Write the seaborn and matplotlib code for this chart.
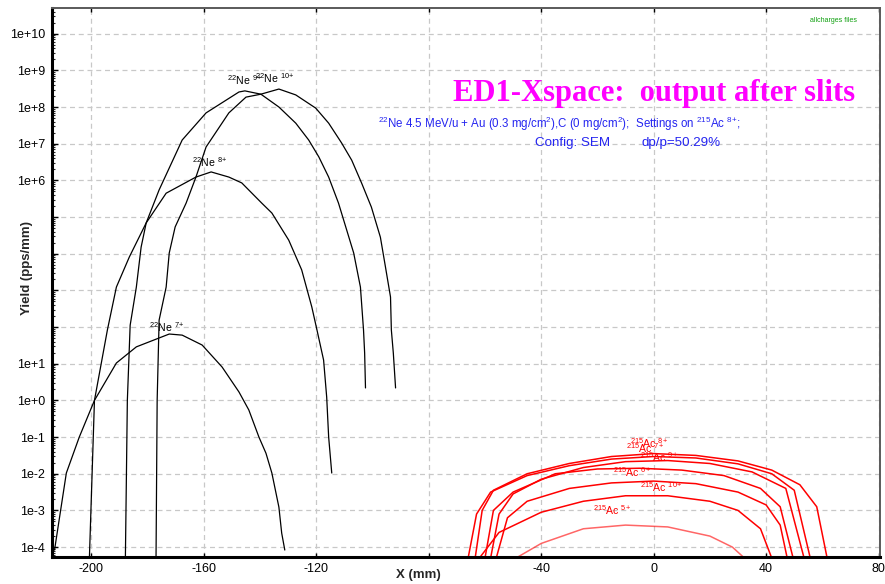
import numpy as np
import pandas as pd
import matplotlib
matplotlib.use("Agg")
import matplotlib.pyplot as plt
import seaborn as sns

# ---- 22Ne charge states (x in mm, log10 of yield in pps/mm) ----
ne7_x = [-213.1, -208.9, -204.3, -198.9, -191.1, -184.0, -172.3, -167.7, -160.6, -153.5,
         -147.5, -144.0, -140.4, -137.9, -135.8, -133.3, -132.3, -131.2]
ne7_logy = [-4.08, -1.98, -1.00, 0.00, 1.02, 1.46, 1.81, 1.78, 1.51, 0.91,
            0.23, -0.26, -1.00, -1.44, -1.98, -2.91, -3.62, -4.08]

ne8_x = [-200.7, -198.9, -194.3, -191.1, -186.5, -180.5, -173.4, -162.8, -157.4, -151.1,
         -146.5, -139.4, -135.8, -129.8, -125.2, -121.6, -119.9, -117.4, -116.3, -115.6, -114.5]
ne8_logy = [-4.30, 0.00, 1.92, 3.09, 3.91, 4.84, 5.65, 6.09, 6.23, 6.09,
            5.93, 5.38, 5.11, 4.37, 3.56, 2.55, 1.97, 1.10, 0.09, -1.00, -1.98]

ne9_x = [-187.9, -187.2, -186.2, -184.0, -182.3, -180.5, -175.9, -167.7, -159.2, -147.5,
         -145.4, -139.7, -133.3, -127.3, -122.7, -119.1, -115.6, -112.1, -109.2, -106.7,
         -104.3, -103.2, -102.8, -102.5]
ne9_logy = [-4.30, 0.00, 2.05, 3.09, 4.18, 4.84, 5.74, 7.10, 7.84, 8.41,
            8.44, 8.35, 8.00, 7.56, 7.10, 6.64, 6.09, 5.38, 4.65, 4.02,
            3.09, 1.92, 1.29, 0.34]

ne10_x = [-177.0, -176.6, -175.9, -173.4, -172.3, -170.2, -166.3, -162.8, -159.2, -151.1,
          -145.0, -139.7, -133.3, -127.3, -120.2, -115.6, -111.0, -107.4, -103.9, -100.4,
          -97.2, -95.4, -93.6, -93.3, -92.6, -91.8]
ne10_logy = [-4.30, 0.00, 2.19, 3.09, 4.02, 4.73, 5.38, 6.09, 6.91, 7.84,
             8.27, 8.35, 8.49, 8.33, 7.97, 7.56, 7.02, 6.55, 5.93, 5.27,
             4.45, 3.64, 2.82, 1.92, 1.29, 0.34]

# ---- 215Ac charge states ----
ac8_x = [-63.5, -61, -57, -45, -30, -15, 0, 15, 30, 42, 52, 58, 61.7]
ac8_logy = [-4.3, -3.0, -2.45, -2.0, -1.72, -1.53, -1.45, -1.5, -1.65, -1.9, -2.3, -2.9, -4.3]

ac7_x = [-66, -63, -58, -45, -30, -15, 0, 15, 30, 42, 50, 55.7]
ac7_logy = [-4.3, -3.1, -2.5, -2.05, -1.78, -1.6, -1.53, -1.57, -1.73, -2.0, -2.45, -4.3]

ac9_x = [-58, -55, -50, -40, -25, -10, 5, 20, 35, 47, 53.5]
ac9_logy = [-4.3, -3.1, -2.55, -2.15, -1.83, -1.67, -1.64, -1.72, -1.95, -2.4, -4.3]

ac6_x = [-60, -57, -50, -35, -20, -5, 10, 25, 38, 45, 49.6]
ac6_logy = [-4.3, -3.0, -2.5, -2.0, -1.87, -1.85, -1.9, -2.05, -2.4, -2.9, -4.3]

ac10_x = [-56, -52, -45, -30, -15, 0, 15, 30, 40, 45, 47.5]
ac10_logy = [-4.3, -3.2, -2.75, -2.4, -2.25, -2.2, -2.27, -2.5, -2.85, -3.4, -4.3]

ac5_x = [-62, -55, -40, -25, -10, 5, 20, 30, 38, 42]
ac5_logy = [-4.3, -3.6, -3.05, -2.75, -2.6, -2.6, -2.75, -3.0, -3.5, -4.3]

ac4_x = [-49, -40, -25, -10, 5, 20, 28, 32.3]
ac4_logy = [-4.3, -3.9, -3.5, -3.4, -3.45, -3.7, -4.0, -4.3]

# ---- curve labels: (charge, x of label, log10 y of label) ----
ne_labels = [("7+", -179.4, 2.0), ("8+", -164.2, 6.5), ("9+", -151.8, 8.74), ("10+", -141.8, 8.79)]
ac_labels = [("8+", -8.5, -1.16), ("7+", -9.9, -1.30), ("9+", -5.0, -1.54),
             ("6+", -14.5, -1.95), ("10+", -5.0, -2.36), ("5+", -21.6, -2.99)]

x_ticks = [-200, -160, -120, -80, -40, 0, 40, 80]
x_ticklabels = ["-200", "-160", "-120", "", "-40", "0", "40", "80"]
y_decades = list(range(-4, 11))
y_ticklabels = ["1e-4", "1e-3", "1e-2", "1e-1", "1e+0", "1e+1", "", "", "", "",
                "1e+6", "1e+7", "1e+8", "1e+9", "1e+10"]

sns.set_theme(style="white")
plt.rcParams["font.family"] = ["Liberation Sans", "DejaVu Sans"]
plt.rcParams["mathtext.fontset"] = "custom"
plt.rcParams["mathtext.rm"] = "Liberation Sans"
plt.rcParams["mathtext.it"] = "Liberation Sans"
plt.rcParams["mathtext.bf"] = "Liberation Sans:bold"

fig = plt.figure(figsize=(8.85, 5.84), dpi=100)
ax = fig.add_axes([52 / 885, 27 / 584, 828 / 885, 549 / 584])
ax.set_yscale("log")

def draw(xs, logys, color, lw=1.0, alpha=1.0):
    df = pd.DataFrame({"x": xs, "y": np.power(10.0, logys)})
    sns.lineplot(data=df, x="x", y="y", ax=ax, color=color, lw=lw, alpha=alpha,
                 estimator=None, sort=False, legend=False)

for xs, ly in [(ne7_x, ne7_logy), (ne8_x, ne8_logy), (ne9_x, ne9_logy), (ne10_x, ne10_logy)]:
    draw(xs, ly, "black", lw=0.9)

for xs, ly in [(ac8_x, ac8_logy), (ac7_x, ac7_logy), (ac9_x, ac9_logy),
               (ac6_x, ac6_logy), (ac10_x, ac10_logy), (ac5_x, ac5_logy)]:
    draw(xs, ly, "#ff0000", lw=1.1)
draw(ac4_x, ac4_logy, "#ff0000", lw=1.1, alpha=0.6)

def charge(q):
    # superscript charge without operator spacing around '+'
    return r"$^{%s{+}}$" % q.rstrip("+")

for q, lx, ly in ne_labels:
    ax.text(lx, 10 ** ly, r"$^{22}$Ne " + charge(q), fontsize=7.6, color="black",
            ha="left", va="center")
for q, lx, ly in ac_labels:
    ax.text(lx, 10 ** ly, r"$^{215}$Ac " + charge(q), fontsize=7.6, color="#ff0000",
            ha="left", va="center")

ax.set_xlim(-214, 80.5)
ax.set_ylim(10 ** -4.27, 10 ** 10.7)
ax.set_xticks(x_ticks)
ax.set_xticklabels(x_ticklabels)
ax.set_yticks([10.0 ** d for d in y_decades])
ax.set_yticklabels(y_ticklabels)
ax.yaxis.set_minor_locator(matplotlib.ticker.LogLocator(base=10, subs=np.arange(2, 10), numticks=30))
ax.yaxis.set_minor_formatter(matplotlib.ticker.NullFormatter())

ax.grid(True, which="major", color="#c8c8c8", linestyle=(0, (4, 3)), lw=0.9)
ax.grid(False, which="minor")

ax.tick_params(axis="y", which="major", direction="in", length=4, width=1, left=True,
               labelsize=9, pad=5, colors="black")
ax.tick_params(axis="y", which="minor", direction="in", length=2.5, width=0.8, left=True)
ax.tick_params(axis="x", which="major", direction="in", length=3, width=1, bottom=True, top=True,
               labelsize=9, pad=4, colors="black")

for side in ["left", "bottom"]:
    ax.spines[side].set_color("black")
    ax.spines[side].set_linewidth(2.2)
for side in ["top", "right"]:
    ax.spines[side].set_color("#5a5a5a")
    ax.spines[side].set_linewidth(1.4)

ax.set_xlabel("X (mm)", fontsize=9.5, fontweight="bold")
ax.xaxis.set_label_coords(0.442, -0.022)
ax.set_ylabel("Yield (pps/mm)", fontsize=9.5, fontweight="bold")
ax.yaxis.set_label_coords(-0.023, 0.526)

fig.text(654 / 885, 1 - 93 / 584, "ED1-Xspace:  output after slits", color="#ff00ff",
         fontsize=22, fontweight="bold", family="Liberation Serif", ha="center", va="center")
fig.text(378 / 885, 1 - 124 / 584,
         r"$^{22}$Ne 4.5 MeV/u + Au (0.3 mg/cm$^{2}$),C (0 mg/cm$^{2}$);  Settings on $^{215}$Ac "
         + charge("8+") + ";",
         color="#2424f0", fontsize=8.3, ha="left", va="center")
fig.text(535 / 885, 1 - 143 / 584, "Config: SEM",
         color="#2424f0", fontsize=9.6, ha="left", va="center")
fig.text(642 / 885, 1 - 143 / 584, "dp/p=50.29%",
         color="#2424f0", fontsize=9.6, ha="left", va="center")
fig.text(833 / 885, 1 - 20 / 584, "allcharges files", color="#10a010", fontsize=5,
         ha="center", va="center")

fig.savefig("out.png", dpi=100)
